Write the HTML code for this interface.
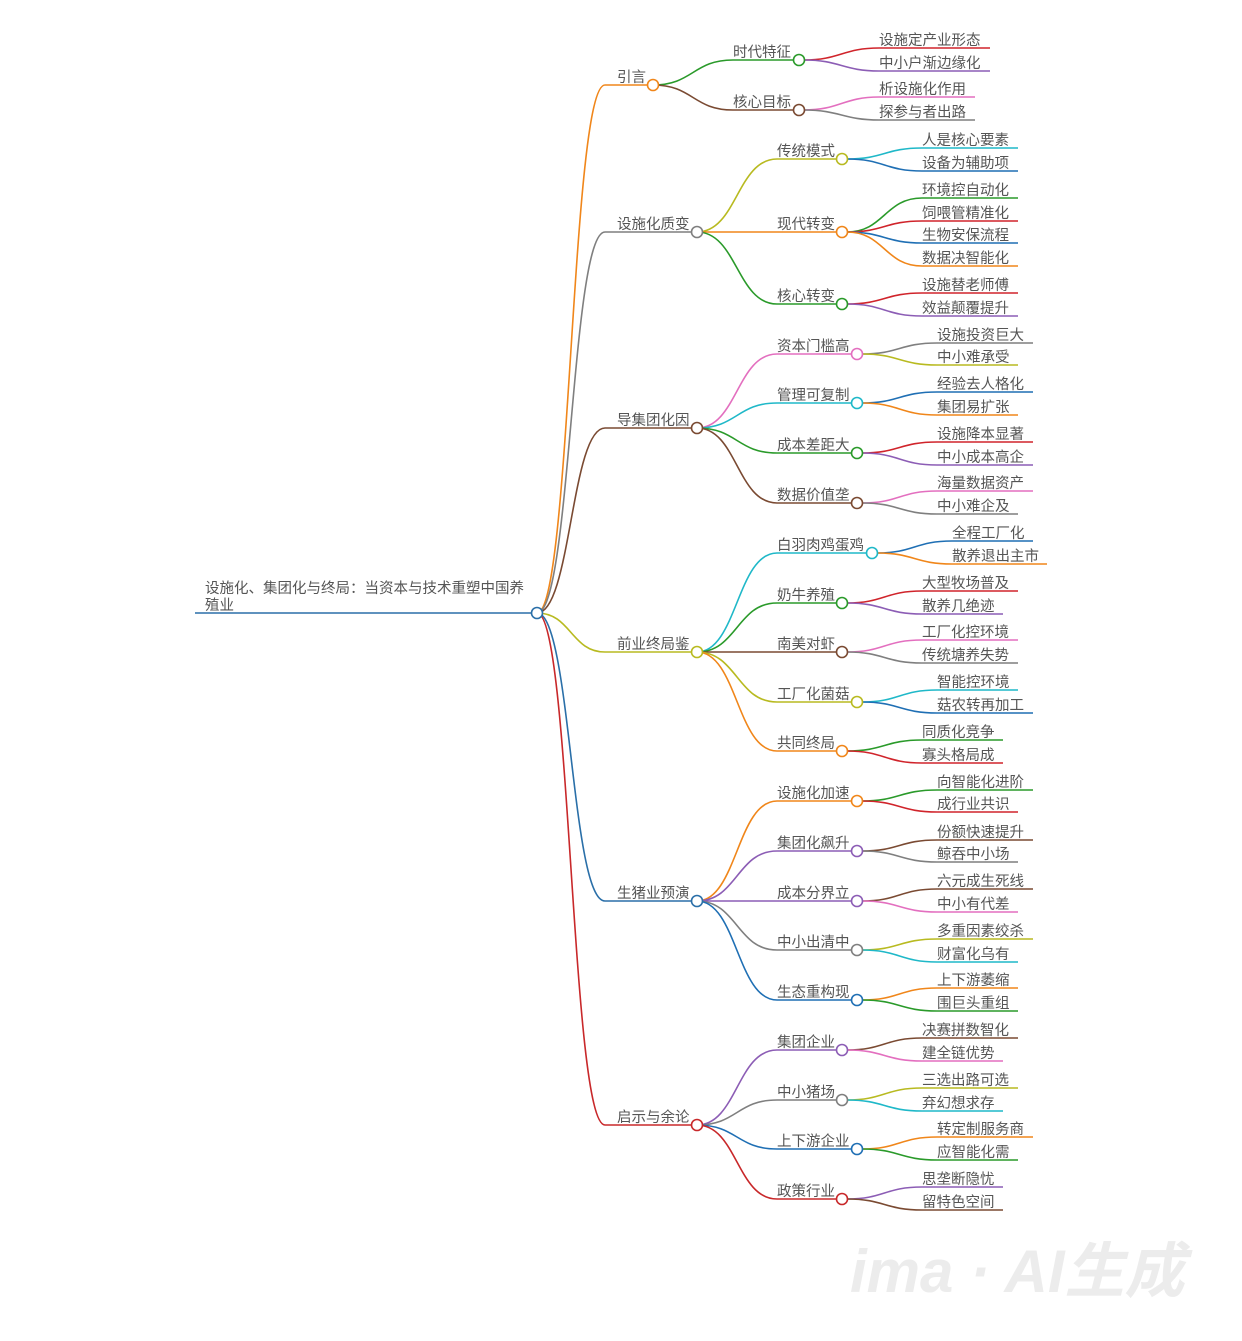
<!DOCTYPE html>
<html><head><meta charset="utf-8"><style>
html,body{margin:0;padding:0;background:#fff;}
svg{display:block;}
text{font-family:"Liberation Sans","Noto Sans CJK SC",sans-serif;font-size:14.5px;fill:#555;}
path{fill:none;stroke-width:1.6;}
circle{fill:#fff;stroke-width:1.6;}
</style></head><body>
<svg width="1242" height="1341" viewBox="0 0 1242 1341" xmlns="http://www.w3.org/2000/svg">
<!-- root -->
<path d="M195 613 H531" stroke="#2a6fa8" stroke-width="2"/>
<text x="205" y="593">设施化、集团化与终局：当资本与技术重塑中国养</text>
<text x="205" y="610">殖业</text>

<!-- level1 curves -->
<path d="M537 613 C571 613,571 85,605 85 H647" stroke="#f0861a"/>
<path d="M537 613 C571 613,571 232,605 232 H691" stroke="#7f7f7f"/>
<path d="M537 613 C571 613,571 428,605 428 H691" stroke="#7a4a32"/>
<path d="M537 613 C571 613,571 652,605 652 H691" stroke="#b8ba20"/>
<path d="M537 613 C571 613,571 901,605 901 H691" stroke="#2a6fa8"/>
<path d="M537 613 C571 613,571 1125,605 1125 H691" stroke="#c8282a"/>
<circle cx="537" cy="613" r="5.5" stroke="#2a6fa8"/>

<text x="617" y="82">引言</text>
<text x="617" y="229">设施化质变</text>
<text x="617" y="425">导集团化因</text>
<text x="617" y="649">前业终局鉴</text>
<text x="617" y="898">生猪业预演</text>
<text x="617" y="1122">启示与余论</text>

<!-- 引言 -->
<path d="M653 85 C693 85,693 60,733 60 H793" stroke="#2a9a2a"/>
<path d="M653 85 C693 85,693 110,733 110 H793" stroke="#7a4a32"/>
<circle cx="653" cy="85" r="5.5" stroke="#f0861a"/>
<text x="733" y="57">时代特征</text>
<text x="733" y="107">核心目标</text>
<path d="M804 60 C840 60,843 48,879 48 H990" stroke="#d0242b"/>
<path d="M804 60 C840 60,843 71,879 71 H990" stroke="#8c5db5"/>
<path d="M804 110 C840 110,843 97,879 97 H975" stroke="#e36fbf"/>
<path d="M804 110 C840 110,843 120,879 120 H975" stroke="#7f7f7f"/>
<circle cx="799" cy="60" r="5.5" stroke="#2a9a2a"/>
<circle cx="799" cy="110" r="5.5" stroke="#7a4a32"/>
<text x="879" y="45">设施定产业形态</text>
<text x="879" y="68">中小户渐边缘化</text>
<text x="879" y="94">析设施化作用</text>
<text x="879" y="117">探参与者出路</text>

<!-- 设施化质变 -->
<path d="M697 232 C737 232,737 159,777 159 H836" stroke="#b8ba20"/>
<path d="M697 232 H836" stroke="#f0861a"/>
<path d="M697 232 C737 232,737 304,777 304 H836" stroke="#2a9a2a"/>
<circle cx="697" cy="232" r="5.5" stroke="#7f7f7f"/>
<text x="777" y="156">传统模式</text>
<text x="777" y="229">现代转变</text>
<text x="777" y="301">核心转变</text>
<path d="M847 159 C884 159,885 148,922 148 H1018" stroke="#1fb8c8"/>
<path d="M847 159 C884 159,885 171,922 171 H1018" stroke="#1f6fb4"/>
<path d="M847 232 C884 232,885 198,922 198 H1018" stroke="#2a9a2a"/>
<path d="M847 232 C884 232,885 221,922 221 H1018" stroke="#d0242b"/>
<path d="M847 232 C884 232,885 243,922 243 H1018" stroke="#1f6fb4"/>
<path d="M847 232 C884 232,885 266,922 266 H1018" stroke="#f0861a"/>
<path d="M847 304 C884 304,885 293,922 293 H1018" stroke="#d0242b"/>
<path d="M847 304 C884 304,885 316,922 316 H1018" stroke="#8c5db5"/>
<circle cx="842" cy="159" r="5.5" stroke="#b8ba20"/>
<circle cx="842" cy="232" r="5.5" stroke="#f0861a"/>
<circle cx="842" cy="304" r="5.5" stroke="#2a9a2a"/>
<text x="922" y="145">人是核心要素</text>
<text x="922" y="168">设备为辅助项</text>
<text x="922" y="195">环境控自动化</text>
<text x="922" y="218">饲喂管精准化</text>
<text x="922" y="240">生物安保流程</text>
<text x="922" y="263">数据决智能化</text>
<text x="922" y="290">设施替老师傅</text>
<text x="922" y="313">效益颠覆提升</text>

<!-- 导集团化因 -->
<path d="M697 428 C737 428,737 354,777 354 H851" stroke="#e36fbf"/>
<path d="M697 428 C737 428,737 403,777 403 H851" stroke="#1fb8c8"/>
<path d="M697 428 C737 428,737 453,777 453 H851" stroke="#2a9a2a"/>
<path d="M697 428 C737 428,737 503,777 503 H851" stroke="#7a4a32"/>
<circle cx="697" cy="428" r="5.5" stroke="#7a4a32"/>
<text x="777" y="351">资本门槛高</text>
<text x="777" y="400">管理可复制</text>
<text x="777" y="450">成本差距大</text>
<text x="777" y="500">数据价值垄</text>
<path d="M862 354 C899 354,900 343,937 343 H1033" stroke="#7f7f7f"/>
<path d="M862 354 C899 354,900 365,937 365 H1018" stroke="#b8ba20"/>
<path d="M862 403 C899 403,900 392,937 392 H1033" stroke="#1f6fb4"/>
<path d="M862 403 C899 403,900 415,937 415 H1018" stroke="#f0861a"/>
<path d="M862 453 C899 453,900 442,937 442 H1033" stroke="#d0242b"/>
<path d="M862 453 C899 453,900 465,937 465 H1033" stroke="#8c5db5"/>
<path d="M862 503 C899 503,900 491,937 491 H1033" stroke="#e36fbf"/>
<path d="M862 503 C899 503,900 514,937 514 H1018" stroke="#7f7f7f"/>
<circle cx="857" cy="354" r="5.5" stroke="#e36fbf"/>
<circle cx="857" cy="403" r="5.5" stroke="#1fb8c8"/>
<circle cx="857" cy="453" r="5.5" stroke="#2a9a2a"/>
<circle cx="857" cy="503" r="5.5" stroke="#7a4a32"/>
<text x="937" y="340">设施投资巨大</text>
<text x="937" y="362">中小难承受</text>
<text x="937" y="389">经验去人格化</text>
<text x="937" y="412">集团易扩张</text>
<text x="937" y="439">设施降本显著</text>
<text x="937" y="462">中小成本高企</text>
<text x="937" y="488">海量数据资产</text>
<text x="937" y="511">中小难企及</text>

<!-- 前业终局鉴 -->
<path d="M697 652 C737 652,737 553,777 553 H866" stroke="#1fb8c8"/>
<path d="M697 652 C737 652,737 603,777 603 H836" stroke="#2a9a2a"/>
<path d="M697 652 H836" stroke="#7a4a32"/>
<path d="M697 652 C737 652,737 702,777 702 H851" stroke="#b8ba20"/>
<path d="M697 652 C737 652,737 751,777 751 H836" stroke="#f0861a"/>
<circle cx="697" cy="652" r="5.5" stroke="#b8ba20"/>
<text x="777" y="550">白羽肉鸡蛋鸡</text>
<text x="777" y="600">奶牛养殖</text>
<text x="777" y="649">南美对虾</text>
<text x="777" y="699">工厂化菌菇</text>
<text x="777" y="748">共同终局</text>
<path d="M877 553 C914 553,915 541,952 541 H1033" stroke="#1f6fb4"/>
<path d="M877 553 C914 553,915 564,952 564 H1047" stroke="#f0861a"/>
<path d="M847 603 C884 603,885 591,922 591 H1018" stroke="#d0242b"/>
<path d="M847 603 C884 603,885 614,922 614 H1003" stroke="#8c5db5"/>
<path d="M847 652 C884 652,885 640,922 640 H1018" stroke="#e36fbf"/>
<path d="M847 652 C884 652,885 663,922 663 H1018" stroke="#7f7f7f"/>
<path d="M862 702 C899 702,900 690,937 690 H1018" stroke="#1fb8c8"/>
<path d="M862 702 C899 702,900 713,937 713 H1033" stroke="#1f6fb4"/>
<path d="M847 751 C884 751,885 740,922 740 H1003" stroke="#2a9a2a"/>
<path d="M847 751 C884 751,885 763,922 763 H1003" stroke="#d0242b"/>
<circle cx="872" cy="553" r="5.5" stroke="#1fb8c8"/>
<circle cx="842" cy="603" r="5.5" stroke="#2a9a2a"/>
<circle cx="842" cy="652" r="5.5" stroke="#7a4a32"/>
<circle cx="857" cy="702" r="5.5" stroke="#b8ba20"/>
<circle cx="842" cy="751" r="5.5" stroke="#f0861a"/>
<text x="952" y="538">全程工厂化</text>
<text x="952" y="561">散养退出主市</text>
<text x="922" y="588">大型牧场普及</text>
<text x="922" y="611">散养几绝迹</text>
<text x="922" y="637">工厂化控环境</text>
<text x="922" y="660">传统塘养失势</text>
<text x="937" y="687">智能控环境</text>
<text x="937" y="710">菇农转再加工</text>
<text x="922" y="737">同质化竞争</text>
<text x="922" y="760">寡头格局成</text>

<!-- 生猪业预演 -->
<path d="M697 901 C737 901,737 801,777 801 H851" stroke="#f0861a"/>
<path d="M697 901 C737 901,737 851,777 851 H851" stroke="#8c5db5"/>
<path d="M697 901 H851" stroke="#8c5db5"/>
<path d="M697 901 C737 901,737 950,777 950 H851" stroke="#7f7f7f"/>
<path d="M697 901 C737 901,737 1000,777 1000 H851" stroke="#1f6fb4"/>
<circle cx="697" cy="901" r="5.5" stroke="#2a6fa8"/>
<text x="777" y="798">设施化加速</text>
<text x="777" y="848">集团化飙升</text>
<text x="777" y="898">成本分界立</text>
<text x="777" y="947">中小出清中</text>
<text x="777" y="997">生态重构现</text>
<path d="M862 801 C899 801,900 790,937 790 H1033" stroke="#2a9a2a"/>
<path d="M862 801 C899 801,900 812,937 812 H1018" stroke="#d0242b"/>
<path d="M862 851 C899 851,900 840,937 840 H1033" stroke="#7a4a32"/>
<path d="M862 851 C899 851,900 862,937 862 H1018" stroke="#7f7f7f"/>
<path d="M862 901 C899 901,900 889,937 889 H1033" stroke="#7a4a32"/>
<path d="M862 901 C899 901,900 912,937 912 H1018" stroke="#e36fbf"/>
<path d="M862 950 C899 950,900 939,937 939 H1033" stroke="#b8ba20"/>
<path d="M862 950 C899 950,900 962,937 962 H1018" stroke="#1fb8c8"/>
<path d="M862 1000 C899 1000,900 988,937 988 H1018" stroke="#f0861a"/>
<path d="M862 1000 C899 1000,900 1011,937 1011 H1018" stroke="#2a9a2a"/>
<circle cx="857" cy="801" r="5.5" stroke="#f0861a"/>
<circle cx="857" cy="851" r="5.5" stroke="#8c5db5"/>
<circle cx="857" cy="901" r="5.5" stroke="#8c5db5"/>
<circle cx="857" cy="950" r="5.5" stroke="#7f7f7f"/>
<circle cx="857" cy="1000" r="5.5" stroke="#1f6fb4"/>
<text x="937" y="787">向智能化进阶</text>
<text x="937" y="809">成行业共识</text>
<text x="937" y="837">份额快速提升</text>
<text x="937" y="859">鲸吞中小场</text>
<text x="937" y="886">六元成生死线</text>
<text x="937" y="909">中小有代差</text>
<text x="937" y="936">多重因素绞杀</text>
<text x="937" y="959">财富化乌有</text>
<text x="937" y="985">上下游萎缩</text>
<text x="937" y="1008">围巨头重组</text>

<!-- 启示与余论 -->
<path d="M697 1125 C737 1125,737 1050,777 1050 H836" stroke="#8c5db5"/>
<path d="M697 1125 C737 1125,737 1100,777 1100 H836" stroke="#7f7f7f"/>
<path d="M697 1125 C737 1125,737 1149,777 1149 H851" stroke="#1f6fb4"/>
<path d="M697 1125 C737 1125,737 1199,777 1199 H836" stroke="#c8282a"/>
<circle cx="697" cy="1125" r="5.5" stroke="#c8282a"/>
<text x="777" y="1047">集团企业</text>
<text x="777" y="1097">中小猪场</text>
<text x="777" y="1146">上下游企业</text>
<text x="777" y="1196">政策行业</text>
<path d="M847 1050 C884 1050,885 1038,922 1038 H1018" stroke="#7a4a32"/>
<path d="M847 1050 C884 1050,885 1061,922 1061 H1003" stroke="#e36fbf"/>
<path d="M847 1100 C884 1100,885 1088,922 1088 H1018" stroke="#b8ba20"/>
<path d="M847 1100 C884 1100,885 1111,922 1111 H1003" stroke="#1fb8c8"/>
<path d="M862 1149 C899 1149,900 1137,937 1137 H1033" stroke="#f0861a"/>
<path d="M862 1149 C899 1149,900 1160,937 1160 H1018" stroke="#2a9a2a"/>
<path d="M847 1199 C884 1199,885 1187,922 1187 H1003" stroke="#8c5db5"/>
<path d="M847 1199 C884 1199,885 1210,922 1210 H1003" stroke="#7a4a32"/>
<circle cx="842" cy="1050" r="5.5" stroke="#8c5db5"/>
<circle cx="842" cy="1100" r="5.5" stroke="#7f7f7f"/>
<circle cx="857" cy="1149" r="5.5" stroke="#1f6fb4"/>
<circle cx="842" cy="1199" r="5.5" stroke="#c8282a"/>
<text x="922" y="1035">决赛拼数智化</text>
<text x="922" y="1058">建全链优势</text>
<text x="922" y="1085">三选出路可选</text>
<text x="922" y="1108">弃幻想求存</text>
<text x="937" y="1134">转定制服务商</text>
<text x="937" y="1157">应智能化需</text>
<text x="922" y="1184">思垄断隐忧</text>
<text x="922" y="1207">留特色空间</text>

<!-- watermark -->
<text x="850" y="1292" style="font-size:60px;font-style:italic;fill:#ececec;font-weight:bold;">ima · AI生成</text>
</svg>
</body></html>
